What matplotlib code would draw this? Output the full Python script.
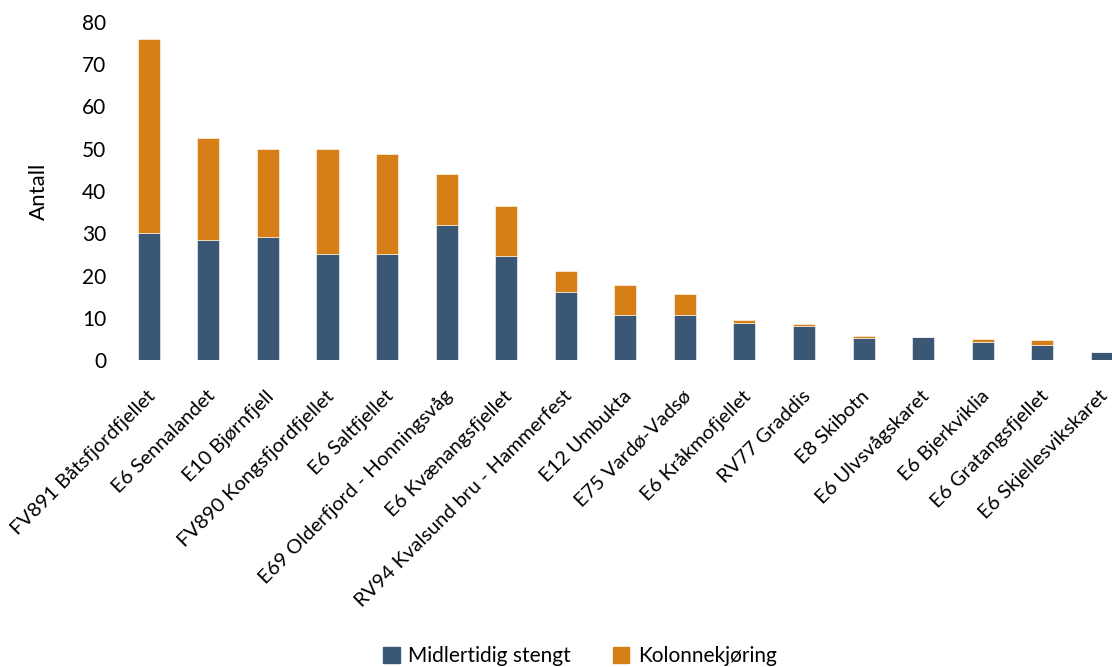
import matplotlib
matplotlib.use("Agg")
import matplotlib.pyplot as plt
from matplotlib.patches import Patch
from matplotlib.transforms import ScaledTranslation

plt.rcParams['font.family'] = ['Lato', 'DejaVu Sans']

categories = ["FV891 Båtsfjordfjellet", "E6 Sennalandet", "E10 Bjørnfjell",
              "FV890 Kongsfjordfjellet", "E6 Saltfjellet", "E69 Olderfjord - Honningsvåg",
              "E6 Kvænangsfjellet", "RV94 Kvalsund bru - Hammerfest", "E12 Umbukta",
              "E75 Vardø-Vadsø", "E6 Kråkmofjellet", "RV77 Graddis", "E8 Skibotn",
              "E6 Ulvsvågskaret", "E6 Bjerkviklia", "E6 Gratangsfjellet", "E6 Skjellesvikskaret"]
stengt = [30, 28.5, 29.2, 25, 25.2, 32, 24.5, 16, 10.7, 10.7, 8.8, 8.1, 5.3, 5.4, 4.3, 3.6, 2.0]
kolonne = [46, 24, 20.7, 25, 23.6, 12, 12, 5, 7.1, 5, 0.7, 0.5, 0.45, 0, 0.7, 1.2, 0]
series_names = ["Midlertidig stengt", "Kolonnekjøring"]
yticks = [0, 10, 20, 30, 40, 50, 60, 70, 80]

blue = "#3A5875"
orange = "#D77F17"

fig = plt.figure(figsize=(11.12, 6.67), dpi=100)
W, H = 1112, 667
left_px, right_px, top_px, bot_px = 119, 1112, 22, 360
ax = fig.add_axes([left_px / W, 1 - bot_px / H, (right_px - left_px) / W, (bot_px - top_px) / H])

x = list(range(len(categories)))
ax.bar(x, stengt, width=0.37, color=blue, edgecolor="white", linewidth=0.4)
ax.bar(x, kolonne, width=0.37, bottom=stengt, color=orange, edgecolor="white", linewidth=0.4)

ax.set_xlim(-0.5, 16.17)
ax.set_ylim(0, 80)
ax.set_yticks(yticks)
ax.tick_params(axis='y', length=0, labelsize=15, pad=9)
ax.tick_params(axis='x', length=0)
for s in ax.spines.values():
    s.set_visible(False)

ax.set_xticks(x)
ax.set_xticklabels(categories, rotation=45, ha='right', rotation_mode='anchor',
                   fontsize=14.5)
ax.tick_params(axis='x', pad=24)
offset = ScaledTranslation(2.5 / 72, 0, fig.dpi_scale_trans)
for lbl in ax.get_xticklabels():
    lbl.set_va('center')
    lbl.set_transform(lbl.get_transform() + offset)

ax.set_ylabel("Antall", fontsize=16, labelpad=24)

handles = [Patch(color=blue), Patch(color=orange)]
fig.legend(handles, series_names, loc='center', bbox_to_anchor=(580 / W, 1 - 656 / H),
           ncol=2, frameon=False, fontsize=15, handlelength=0.8, handleheight=0.8,
           columnspacing=2.0, handletextpad=0.4)

fig.savefig("out.png", dpi=100)
